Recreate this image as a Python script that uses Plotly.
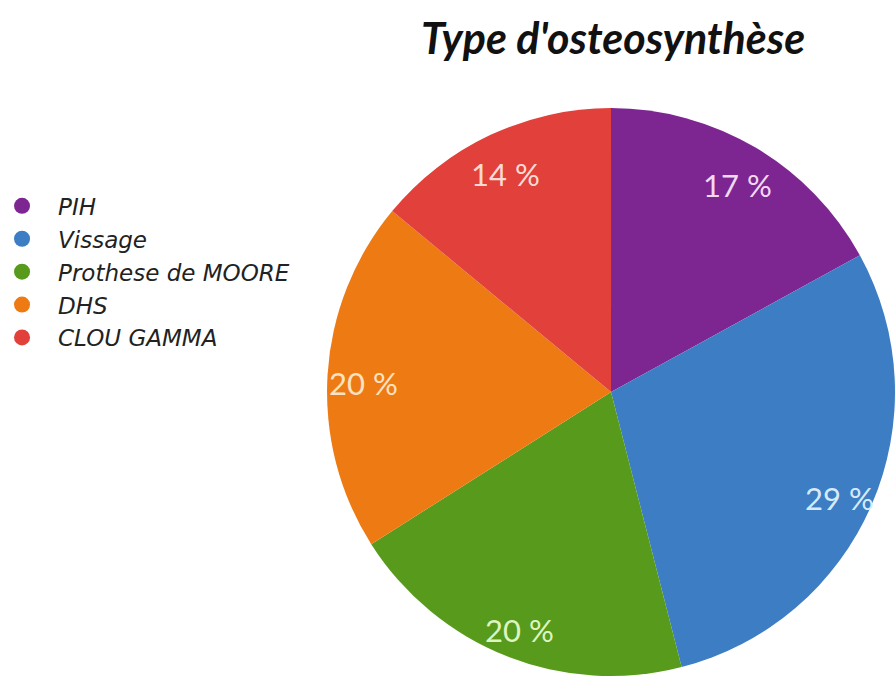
import math
import plotly.graph_objects as go

categories = ["PIH", "Vissage", "Prothese de MOORE", "DHS", "CLOU GAMMA"]
values = [17, 29, 20, 20, 14]
colors = ["#7D2692", "#3C7DC3", "#589B1C", "#EE7A14", "#E2403A"]
text_colors = ["#F2D9F2", "#D6EAFA", "#DDF5C0", "#FCE2C2", "#FCDAD4"]

W, H = 895, 678
dom_x = [0.3654, 1.0]
dom_y = [0.0015, 0.842]

fig = go.Figure()
fig.add_trace(go.Pie(
    labels=categories, values=values, sort=False, direction="clockwise",
    rotation=0, marker=dict(colors=colors, line=dict(width=0)),
    textinfo="none", hoverinfo="label+percent", showlegend=False,
    domain=dict(x=dom_x, y=dom_y),
))

# percentage labels placed along slice mid-angles
px0, px1 = dom_x[0] * W, dom_x[1] * W
py0, py1 = (1 - dom_y[1]) * H, (1 - dom_y[0]) * H
R = min(px1 - px0, py1 - py0) / 2
cx = (px0 + px1) / 2
cy = (py0 + py1) / 2
total = sum(values)
cum = 0
for v, tc in zip(values, text_colors):
    mid = (cum + v / 2) / total * 2 * math.pi
    cum += v
    r = 0.875 * R
    x = cx + r * math.sin(mid)
    y = cy - r * math.cos(mid)
    fig.add_annotation(
        x=x / W, y=1 - y / H, xref="paper", yref="paper",
        xanchor="center", yanchor="middle", yshift=-7,
        text=f"{v} %", showarrow=False,
        font=dict(family="Lato", size=31, color=tc),
    )

for c, col in zip(categories, colors):
    fig.add_trace(go.Scatter(
        x=[None], y=[None], mode="markers", name=c,
        marker=dict(symbol="circle", size=16, color=col),
    ))

fig.update_layout(
    width=W, height=H,
    margin=dict(l=0, r=0, t=0, b=0, autoexpand=False),
    paper_bgcolor="white", plot_bgcolor="white",
    title=dict(
        text="Type d'osteosynthèse", x=0.685, xanchor="center",
        y=0.942, yanchor="middle",
        font=dict(family="Lato", size=43, color="#111111", weight="bold", style="italic"),
    ),
    xaxis=dict(visible=False), yaxis=dict(visible=False),
    legend=dict(
        x=-0.0156, y=0.728, xanchor="left", yanchor="top",
        font=dict(family="DejaVu Sans", size=23, color="#222222", style="italic"),
        tracegroupgap=0, itemsizing="trace", itemwidth=62,
        bgcolor="rgba(0,0,0,0)",
    ),
)

fig.write_html("out.html")
